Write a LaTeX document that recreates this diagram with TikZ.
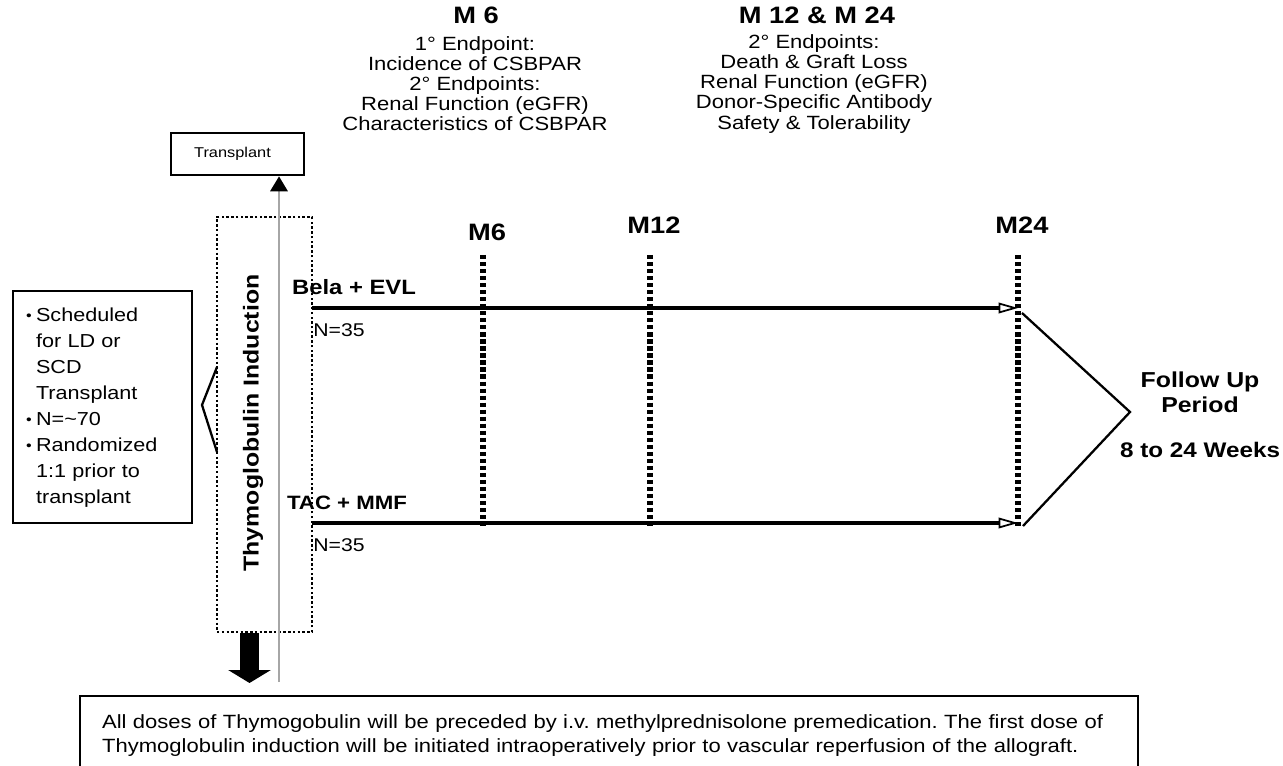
\documentclass[tikz,border=0pt]{standalone}
\usepackage{fontspec}
\setmainfont{Liberation Sans}[FakeStretch=1.15]
\usetikzlibrary{arrows.meta,positioning}

\newcommand\bul{\raisebox{0.1ex}{\footnotesize\textbullet}}
\frenchspacing

\begin{document}
\begin{tikzpicture}[x=0.02cm, y=-0.02cm, >=Latex, every node/.style={inner sep=0pt, align=center}, head/.style={font=\fontsize{13.5}{15}\selectfont\bfseries}, endtext/.style={font=\fontsize{10.9}{11.4}\selectfont}, arm/.style={font=\fontsize{11.8}{13}\selectfont\bfseries}, count/.style={font=\fontsize{10.5}{12}\selectfont}, frame/.style={draw, line width=1.2pt}, marker/.style={line width=3.2pt, dash pattern=on 2.4pt off 1.6pt}, armline/.style={line width=1.9pt, -{Triangle[open, line width=1pt, length=11pt, width=6pt]}}, chev/.style={line width=1.3pt}]
\useasboundingbox (0,0) rectangle (1283,766);
% endpoints at the top
\node[head] (m6head) at (476,15) {M 6};
\node[endtext] (m6body) at (475,84) {1° Endpoint:\\Incidence of CSBPAR\\2° Endpoints:\\Renal Function (eGFR)\\Characteristics of CSBPAR};
\node[head] (m24head) at (817,15) {M 12 \& M 24};
\node[endtext] (m24body) at (814,84) {2° Endpoints:\\Death \& Graft Loss\\Renal Function (eGFR)\\Donor-Specific Antibody\\Safety \& Tolerability};
% induction and transplant
\node[frame, line width=1.6pt, minimum width=2.66cm, minimum height=0.84cm, font=\fontsize{8.1}{9}\selectfont] (tx) at (237.5,154) {Transplant\hspace*{0.2cm}};
\node[draw, line width=1.6pt, dash pattern=on 1.4pt off 1.3pt, minimum width=1.9cm, minimum height=8.3cm] (induct) at (264.5,424.5) {};
\node[rotate=90, font=\fontsize{12.3}{14}\selectfont\bfseries] (thymo) at (253,423) {Thymoglobulin Induction};
\coordinate (txbase) at (279,682);
\draw[gray!70, line width=0.8pt, -{Triangle[black, length=8.5pt, width=10pt]}] (txbase) -- (txbase |- tx.south);
\coordinate (dropend) at (249.5,683);
\draw[line width=10.8pt, -{Triangle[length=7.4pt, width=24pt]}] (dropend |- induct.south) -- (dropend);
% patients
\node[frame, minimum width=3.58cm, minimum height=4.64cm, inner xsep=0.26cm, text width=3.06cm, align=left, font=\fontsize{10.7}{14.8}\selectfont] (crit) at (102.5,407) {\begin{tabular}{@{}c@{\hspace{2.5pt}}l@{}}\bul & Scheduled\\ & for LD or\\ & SCD\\ & Transplant\\ \bul & N=\textasciitilde70\\ \bul & Randomized\\ & 1:1 prior to\\ & transplant\end{tabular}};
\coordinate (brtop) at (217,367);
\coordinate (brtip) at (202,405);
\coordinate (brbot) at (217,452);
\draw[chev] (brtop) -- (brtip) -- (brbot);
% arms
\coordinate (belastart) at (312,308);
\coordinate (belaend) at (1018,308);
\coordinate (tacstart) at (312,523);
\coordinate (tacend) at (1018,523);
\node[arm] (bela) at (354,287) {Bela + EVL};
\node[count, anchor=west] (belan) at (313,330) {N=35};
\node[arm, font=\fontsize{11}{13}\selectfont\bfseries] (tac) at (347,503) {TAC + MMF};
\node[count, anchor=west] (tacn) at (313,545) {N=35};
% month markers
\foreach \name/\x/\ly in {M6/483/232, M12/650/225, M24/1018/225} {
  \coordinate (\name top) at (\x,255);
  \coordinate (\name bot) at (\x,528);
  \draw[marker] (\name top) -- (\name bot);
  \node[head] (\name lab) at (\x+4,\ly) {\name};
}
\draw[armline] (belastart) -- (belaend);
\draw[armline] (tacstart) -- (tacend);
% follow up
\coordinate (fuhigh) at (1022,313);
\coordinate (futip) at (1130,412);
\coordinate (fulow) at (1023,526);
\draw[chev] (fuhigh) -- (futip) -- (fulow);
\node[font=\fontsize{12.3}{14.2}\selectfont\bfseries] (fu) at (1200,392) {Follow Up\\Period};
\node[font=\fontsize{12}{14}\selectfont\bfseries] (weeks) at (1200,450) {8 to 24 Weeks};
% note
\node[frame, minimum width=21.16cm, minimum height=1.6cm, inner xsep=0.44cm, text width=20.28cm, align=left, font=\fontsize{10.9}{13.7}\selectfont] (note) at (609,736) {All doses of Thymogobulin will be preceded by i.v. methylprednisolone premedication. The first dose of\\Thymoglobulin induction will be initiated intraoperatively prior to vascular reperfusion of the allograft.};
\end{tikzpicture}
\end{document}
